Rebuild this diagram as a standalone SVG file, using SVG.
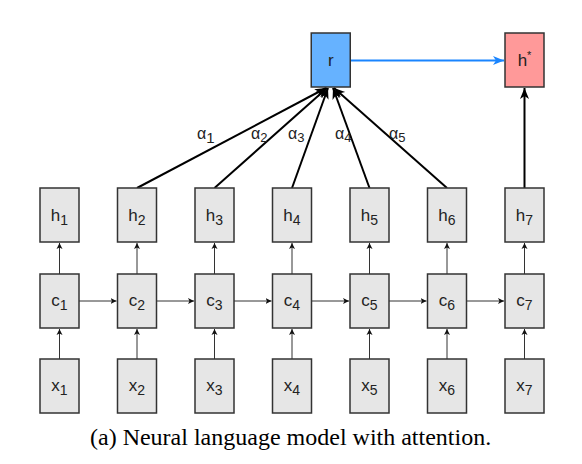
<svg xmlns="http://www.w3.org/2000/svg" width="582" height="464" viewBox="0 0 582 464">
<style>
.box{fill:#e6e6e6;stroke:#333;stroke-width:1.5}
.r{fill:#66b2ff;stroke:#333;stroke-width:1.5}
.hs{fill:#ff9999;stroke:#333;stroke-width:1.5}
.lbl{font-family:"Liberation Sans",Arial,sans-serif;font-size:17px;fill:#222;text-anchor:middle}
.sub{font-size:14px}
.al{font-family:"Liberation Sans",Arial,sans-serif;font-size:16px;fill:#222}
.thin{stroke:#333;stroke-width:1;fill:none}
.thick{stroke:#000;stroke-width:2;fill:none}
.blue{stroke:#1a85ff;stroke-width:2;fill:none}
.cap{font-family:"Liberation Serif","Times New Roman",serif;font-size:24px;fill:#000}
</style>
<defs>
<marker id="as" markerUnits="userSpaceOnUse" markerWidth="8" markerHeight="8" refX="6" refY="3" orient="auto" viewBox="0 0 8 6">
<path d="M0,0 L6,3 L0,6 L1.5,3 z" fill="#111"/>
</marker>
<marker id="ab" markerUnits="userSpaceOnUse" markerWidth="12" markerHeight="10" refX="11" refY="4.5" orient="auto" viewBox="0 0 12 9">
<path d="M0,0 L11,4.5 L0,9 L3,4.5 z" fill="#000"/>
</marker>
<marker id="abl" markerUnits="userSpaceOnUse" markerWidth="12" markerHeight="10" refX="11" refY="4.5" orient="auto" viewBox="0 0 12 9">
<path d="M0,0 L11,4.5 L0,9 L3,4.5 z" fill="#1a85ff"/>
</marker>
</defs>
<g id="connectors">
<line class="thin" x1="59.5" y1="359" x2="59.5" y2="329" marker-end="url(#as)"/>
<line class="thin" x1="137" y1="359" x2="137" y2="329" marker-end="url(#as)"/>
<line class="thin" x1="214.5" y1="359" x2="214.5" y2="329" marker-end="url(#as)"/>
<line class="thin" x1="292" y1="359" x2="292" y2="329" marker-end="url(#as)"/>
<line class="thin" x1="369.5" y1="359" x2="369.5" y2="329" marker-end="url(#as)"/>
<line class="thin" x1="447" y1="359" x2="447" y2="329" marker-end="url(#as)"/>
<line class="thin" x1="524.5" y1="359" x2="524.5" y2="329" marker-end="url(#as)"/>
<line class="thin" x1="59.5" y1="274" x2="59.5" y2="243" marker-end="url(#as)"/>
<line class="thin" x1="137" y1="274" x2="137" y2="243" marker-end="url(#as)"/>
<line class="thin" x1="214.5" y1="274" x2="214.5" y2="243" marker-end="url(#as)"/>
<line class="thin" x1="292" y1="274" x2="292" y2="243" marker-end="url(#as)"/>
<line class="thin" x1="369.5" y1="274" x2="369.5" y2="243" marker-end="url(#as)"/>
<line class="thin" x1="447" y1="274" x2="447" y2="243" marker-end="url(#as)"/>
<line class="thin" x1="524.5" y1="274" x2="524.5" y2="243" marker-end="url(#as)"/>
<line class="thin" x1="79" y1="301" x2="116.5" y2="301" marker-end="url(#as)"/>
<line class="thin" x1="156.5" y1="301" x2="194" y2="301" marker-end="url(#as)"/>
<line class="thin" x1="234" y1="301" x2="271.5" y2="301" marker-end="url(#as)"/>
<line class="thin" x1="311.5" y1="301" x2="349" y2="301" marker-end="url(#as)"/>
<line class="thin" x1="389" y1="301" x2="426.5" y2="301" marker-end="url(#as)"/>
<line class="thin" x1="466.5" y1="301" x2="504" y2="301" marker-end="url(#as)"/>
<line class="thick" x1="137" y1="188" x2="326" y2="88" marker-end="url(#ab)"/>
<line class="thick" x1="214.5" y1="188" x2="327" y2="88" marker-end="url(#ab)"/>
<line class="thick" x1="292" y1="188" x2="328" y2="88" marker-end="url(#ab)"/>
<line class="thick" x1="369.5" y1="188" x2="333" y2="88" marker-end="url(#ab)"/>
<line class="thick" x1="447" y1="188" x2="334" y2="88" marker-end="url(#ab)"/>
<line class="thick" x1="524.5" y1="188" x2="524.5" y2="88" marker-end="url(#ab)"/>
<line class="blue" x1="350.5" y1="60.5" x2="504" y2="60.5" marker-end="url(#abl)"/>
<text class="al" x="197" y="139">α<tspan font-size="15" dy="4">1</tspan></text>
<text class="al" x="251" y="139">α<tspan font-size="13" dy="3">2</tspan></text>
<text class="al" x="288" y="139">α<tspan font-size="13" dy="3">3</tspan></text>
<text class="al" x="335" y="139">α<tspan font-size="13" dy="3">4</tspan></text>
<text class="al" x="389" y="139">α<tspan font-size="13" dy="3">5</tspan></text>
</g>
<g id="node-r"><rect class="r" x="311.25" y="33" width="39" height="54"/><text class="lbl" x="330.75" y="66">r</text></g>
<g id="node-hstar"><rect class="hs" x="505" y="33" width="39" height="54"/><text class="lbl" x="524.5" y="66">h<tspan font-size="11" dy="-7">*</tspan></text></g>
<g id="node-h1"><rect class="box" x="40" y="188" width="39" height="54"/><text class="lbl" x="59.5" y="221">h<tspan class="sub" dy="4">1</tspan></text></g>
<g id="node-h2"><rect class="box" x="117.5" y="188" width="39" height="54"/><text class="lbl" x="137" y="221">h<tspan class="sub" dy="4">2</tspan></text></g>
<g id="node-h3"><rect class="box" x="195" y="188" width="39" height="54"/><text class="lbl" x="214.5" y="221">h<tspan class="sub" dy="4">3</tspan></text></g>
<g id="node-h4"><rect class="box" x="272.5" y="188" width="39" height="54"/><text class="lbl" x="292" y="221">h<tspan class="sub" dy="4">4</tspan></text></g>
<g id="node-h5"><rect class="box" x="350" y="188" width="39" height="54"/><text class="lbl" x="369.5" y="221">h<tspan class="sub" dy="4">5</tspan></text></g>
<g id="node-h6"><rect class="box" x="427.5" y="188" width="39" height="54"/><text class="lbl" x="447" y="221">h<tspan class="sub" dy="4">6</tspan></text></g>
<g id="node-h7"><rect class="box" x="505" y="188" width="39" height="54"/><text class="lbl" x="524.5" y="221">h<tspan class="sub" dy="4">7</tspan></text></g>
<g id="node-c1"><rect class="box" x="40" y="274" width="39" height="54"/><text class="lbl" x="59.5" y="306">c<tspan class="sub" dy="4">1</tspan></text></g>
<g id="node-c2"><rect class="box" x="117.5" y="274" width="39" height="54"/><text class="lbl" x="137" y="306">c<tspan class="sub" dy="4">2</tspan></text></g>
<g id="node-c3"><rect class="box" x="195" y="274" width="39" height="54"/><text class="lbl" x="214.5" y="306">c<tspan class="sub" dy="4">3</tspan></text></g>
<g id="node-c4"><rect class="box" x="272.5" y="274" width="39" height="54"/><text class="lbl" x="292" y="306">c<tspan class="sub" dy="4">4</tspan></text></g>
<g id="node-c5"><rect class="box" x="350" y="274" width="39" height="54"/><text class="lbl" x="369.5" y="306">c<tspan class="sub" dy="4">5</tspan></text></g>
<g id="node-c6"><rect class="box" x="427.5" y="274" width="39" height="54"/><text class="lbl" x="447" y="306">c<tspan class="sub" dy="4">6</tspan></text></g>
<g id="node-c7"><rect class="box" x="505" y="274" width="39" height="54"/><text class="lbl" x="524.5" y="306">c<tspan class="sub" dy="4">7</tspan></text></g>
<g id="node-x1"><rect class="box" x="40" y="359" width="39" height="54"/><text class="lbl" x="59.5" y="391">x<tspan class="sub" dy="4">1</tspan></text></g>
<g id="node-x2"><rect class="box" x="117.5" y="359" width="39" height="54"/><text class="lbl" x="137" y="391">x<tspan class="sub" dy="4">2</tspan></text></g>
<g id="node-x3"><rect class="box" x="195" y="359" width="39" height="54"/><text class="lbl" x="214.5" y="391">x<tspan class="sub" dy="4">3</tspan></text></g>
<g id="node-x4"><rect class="box" x="272.5" y="359" width="39" height="54"/><text class="lbl" x="292" y="391">x<tspan class="sub" dy="4">4</tspan></text></g>
<g id="node-x5"><rect class="box" x="350" y="359" width="39" height="54"/><text class="lbl" x="369.5" y="391">x<tspan class="sub" dy="4">5</tspan></text></g>
<g id="node-x6"><rect class="box" x="427.5" y="359" width="39" height="54"/><text class="lbl" x="447" y="391">x<tspan class="sub" dy="4">6</tspan></text></g>
<g id="node-x7"><rect class="box" x="505" y="359" width="39" height="54"/><text class="lbl" x="524.5" y="391">x<tspan class="sub" dy="4">7</tspan></text></g>
<text class="cap" x="90" y="445">(a) Neural language model with attention.</text>
</svg>
